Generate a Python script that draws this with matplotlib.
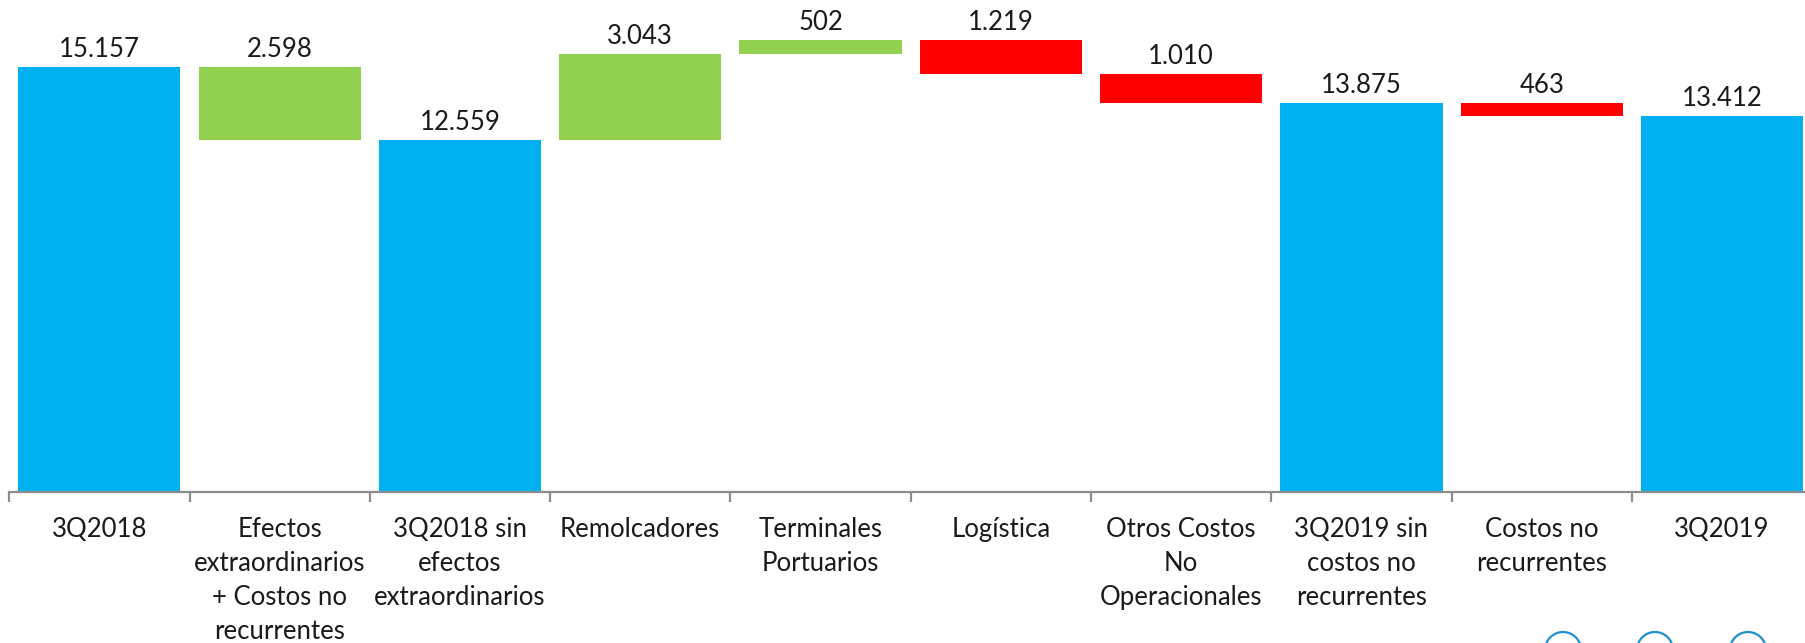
import matplotlib
matplotlib.use("Agg")
import matplotlib.pyplot as plt
from matplotlib.patches import Circle
import numpy as np

categories = ["3Q2018", "Efectos\nextraordinarios\n+ Costos no\nrecurrentes",
              "3Q2018 sin\nefectos\nextraordinarios", "Remolcadores",
              "Terminales\nPortuarios", "Logística", "Otros Costos\nNo\nOperacionales",
              "3Q2019 sin\ncostos no\nrecurrentes", "Costos no\nrecurrentes", "3Q2019"]
values = [15157, -2598, 12559, 3043, 502, -1219, -1010, 13875, -463, 13412]
kinds = ["total", "green", "total", "green", "green", "red", "red", "total", "red", "total"]

colors = {"total": "#00B0F0", "green": "#92D050", "red": "#FF0000"}

bottoms, heights = [], []
running = 0
for v, k in zip(values, kinds):
    if k == "total":
        bottoms.append(0); heights.append(v); running = v
    else:
        lo = min(running, running + v)
        bottoms.append(lo); heights.append(abs(v)); running += v

plt.rcParams['font.family'] = ['Lato', 'DejaVu Sans']
W, H = 1806, 643
fig = plt.figure(figsize=(W/100, H/100), dpi=100)
x_left = 9.2 / W
x_right = (9.2 + 180.3 * 10) / W
ax = fig.add_axes([x_left, 1 - 491.8 / H, x_right - x_left, 491.8 / H])

x = np.arange(len(categories))
ax.bar(x, heights, bottom=bottoms, width=0.9,
       color=[colors[k] for k in kinds], edgecolor='none')

for xi, b, h, v in zip(x, bottoms, heights, values):
    txt = f"{abs(v):,}".replace(",", ".")
    ax.annotate(txt, (xi, b + h), xytext=(0, 5), textcoords='offset pixels',
                ha='center', va='bottom', fontsize=18.5, color='#1a1a1a')

ax.set_xlim(-0.5, len(categories) - 0.5)
ax.set_ylim(0, 491.8 / 0.02804)
ax.set_yticks([])
for s in ['top', 'right', 'left']:
    ax.spines[s].set_visible(False)
ax.spines['bottom'].set_color('#8c8c8c')
ax.spines['bottom'].set_linewidth(1.6)

ax.set_xticks(x)
ax.set_xticklabels(categories, fontsize=18.5, color='#1a1a1a', linespacing=1.45, va='top')
ax.tick_params(axis='x', which='major', length=0, pad=18)
ax.set_xticks(np.arange(-0.5, len(categories)), minor=True)
ax.tick_params(axis='x', which='minor', length=7, width=1.6, color='#8c8c8c', direction='out')

# decorative arcs at bottom right
for cx in [15.63, 16.55, 17.48]:
    c = Circle((cx, -0.07), 0.18, transform=fig.dpi_scale_trans, fill=False,
               edgecolor='#1E90D0', linewidth=1.6, clip_on=False)
    fig.patches.append(c)

fig.savefig("out.png", dpi=100)
